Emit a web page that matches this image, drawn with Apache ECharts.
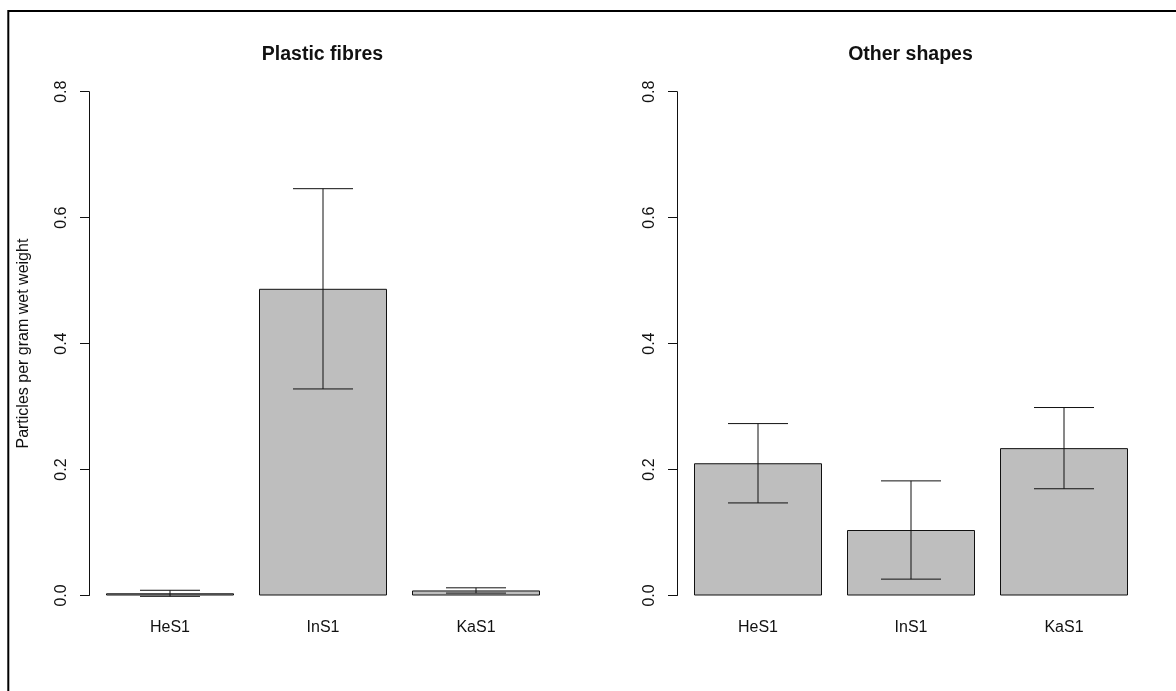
<!DOCTYPE html>
<html>
<head>
<meta charset="utf-8">
<title>Particles per gram wet weight</title>
<script src="https://cdn.jsdelivr.net/npm/echarts@6/dist/echarts.min.js"></script>
<style>
  html, body { margin: 0; padding: 0; background: #ffffff; }
  #chart { width: 1176px; height: 691px; }
</style>
</head>
<body>
<div id="chart"></div>
<script>
// Sampling sites and mean particle counts (± error) per panel
const categories = ['HeS1', 'InS1', 'KaS1'];
const fibreMeans = [0.0035, 0.487, 0.008];
const fibreErrors = [0.0048, 0.159, 0.0042];
const shapeMeans = [0.21, 0.104, 0.234];
const shapeErrors = [0.063, 0.078, 0.0645];
const panelTitles = ['Plastic fibres', 'Other shapes'];
const yAxisTitle = 'Particles per gram wet weight';
const yMin = 0;
const yMax = 0.8;
const yStep = 0.2;

const FONT = '"Liberation Sans", Arial, sans-serif';
const INK = '#111111';

const chart = echarts.init(document.getElementById('chart'), null, { renderer: 'canvas' });

// Panel geometry: two equal figure halves, the second shifted by half the width
const panelShift = 588;
const gridLeft = 93.5;
const gridTop = 91.7;
const gridWidth = 459;
const gridHeight = 503.8;

function errorBarRenderer(params, api) {
  const x = api.value(0);
  const mean = api.value(1);
  const err = api.value(2);
  const hi = api.coord([x, mean + err]);
  const lo = api.coord([x, mean - err]);
  const half = 30;
  const style = { stroke: INK, lineWidth: 1 };
  return {
    type: 'group',
    children: [
      { type: 'line', shape: { x1: hi[0], y1: hi[1], x2: lo[0], y2: lo[1] }, style },
      { type: 'line', shape: { x1: hi[0] - half, y1: hi[1], x2: hi[0] + half, y2: hi[1] }, style },
      { type: 'line', shape: { x1: lo[0] - half, y1: lo[1], x2: lo[0] + half, y2: lo[1] }, style }
    ]
  };
}

const grids = [0, 1].map(i => ({
  left: gridLeft + i * panelShift,
  top: gridTop,
  width: gridWidth,
  height: gridHeight
}));

const xAxes = [0, 1].map(i => ({
  type: 'category',
  gridIndex: i,
  data: categories,
  boundaryGap: true,
  axisLine: { show: false },
  axisTick: { show: false },
  axisLabel: { fontFamily: FONT, fontSize: 16, color: INK, margin: 24 }
}));

const yAxes = [0, 1].map(i => ({
  type: 'value',
  gridIndex: i,
  min: yMin,
  max: yMax,
  interval: yStep,
  offset: 4.5,
  name: i === 0 ? yAxisTitle : '',
  nameLocation: 'middle',
  nameGap: 57,
  nameRotate: 90,
  nameTextStyle: { fontFamily: FONT, fontSize: 16, color: INK },
  axisLine: { show: true, lineStyle: { color: INK, width: 1 } },
  axisTick: { show: true, length: 9, lineStyle: { color: INK, width: 1 } },
  splitLine: { show: false },
  axisLabel: {
    rotate: 90,
    margin: 19,
    fontFamily: FONT,
    fontSize: 16,
    color: INK,
    formatter: v => v.toFixed(1)
  }
}));

const means = [fibreMeans, shapeMeans];
const errors = [fibreErrors, shapeErrors];

const series = [];
[0, 1].forEach(i => {
  series.push({
    type: 'bar',
    xAxisIndex: i,
    yAxisIndex: i,
    data: means[i],
    barWidth: 128,
    itemStyle: { color: '#bebebe', borderColor: INK, borderWidth: 1 },
    silent: true,
    z: 2
  });
  series.push({
    type: 'custom',
    xAxisIndex: i,
    yAxisIndex: i,
    renderItem: errorBarRenderer,
    clip: false,
    encode: { x: 0, y: 1 },
    data: categories.map((c, k) => [k, means[i][k], errors[i][k]]),
    silent: true,
    z: 3
  });
});

const titles = [0, 1].map(i => ({
  text: panelTitles[i],
  left: 317.5 + i * panelShift,
  top: 40,
  textAlign: 'center',
  textStyle: { fontFamily: FONT, fontSize: 19.5, fontWeight: 'bold', color: INK }
}));

chart.setOption({
  backgroundColor: '#ffffff',
  animation: false,
  title: titles,
  grid: grids,
  xAxis: xAxes,
  yAxis: yAxes,
  series: series,
  graphic: [{
    // outer frame (left and top edges visible)
    type: 'rect',
    shape: { x: 8.3, y: 11, width: 2000, height: 2000 },
    style: { fill: 'none', stroke: '#000000', lineWidth: 2 },
    silent: true,
    z: 10
  }]
});
</script>
</body>
</html>
